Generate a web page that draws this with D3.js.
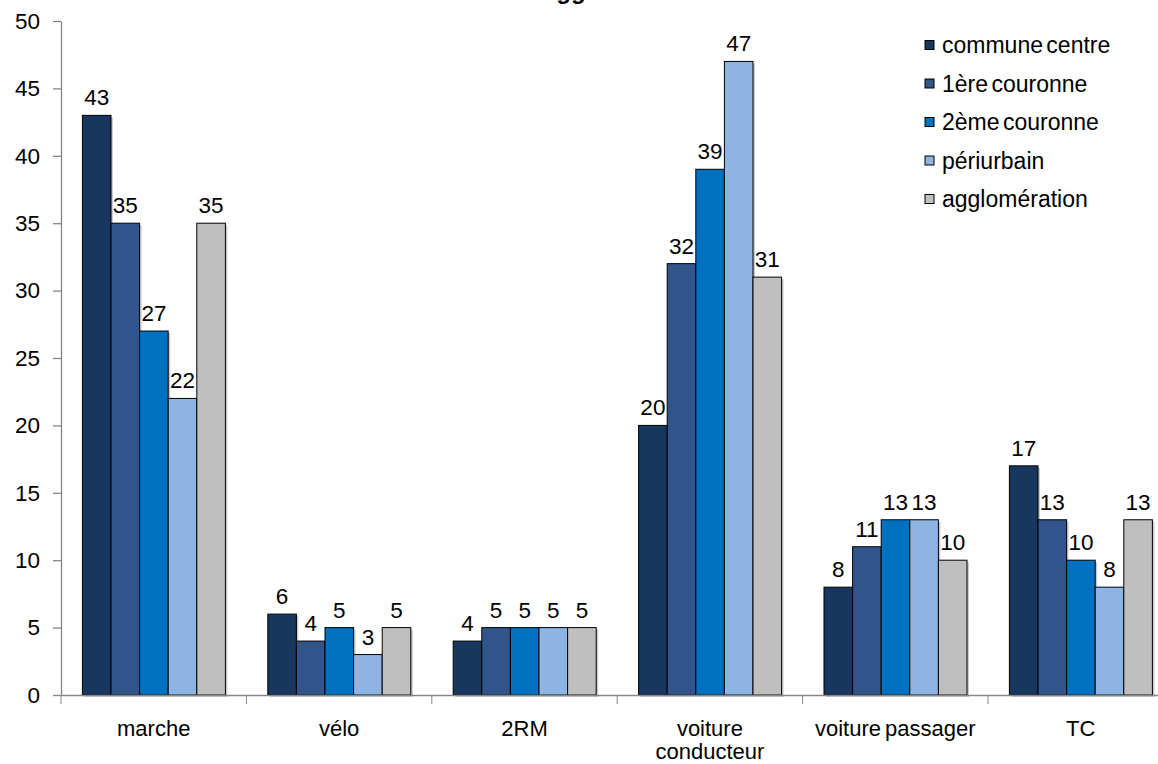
<!DOCTYPE html>
<html>
<head>
<meta charset="utf-8">
<script src="https://cdn.jsdelivr.net/npm/d3@7"></script>
<style>
  body { margin: 0; background: #fff; overflow: hidden; }
  text { font-family: "Liberation Sans", Arial, sans-serif; fill: #000; }
</style>
</head>
<body>
<div id="chart"></div>
<script>
// categories (modes) and series (zones)
var categories = ["marche", "vélo", "2RM", "voiture conducteur", "voiture passager", "TC"];
var series = ["commune centre", "1ère couronne", "2ème couronne", "périurbain", "agglomération"];
var colors = ["#17375e", "#31558a", "#0070c0", "#8eb4e3", "#bfbfbf"];

// values per series, in category order
var communeCentre = [43, 6, 4, 20, 8, 17];
var premiereCouronne = [35, 4, 5, 32, 11, 13];
var deuxiemeCouronne = [27, 5, 5, 39, 13, 10];
var periurbain = [22, 3, 5, 47, 13, 8];
var agglomeration = [35, 5, 5, 31, 10, 13];

var yTicks = [0, 5, 10, 15, 20, 25, 30, 35, 40, 45, 50];

var seriesValues = [communeCentre, premiereCouronne, deuxiemeCouronne, periurbain, agglomeration];

var svgWidth = 1158;
var svgHeight = 764;
var fontSize = "22px";

var svg = d3.select("#chart")
    .append("svg")
    .attr("width", svgWidth)
    .attr("height", svgHeight);

// scales
var bandW = 185.4;
var x0 = d3.scaleBand()
    .domain(categories)
    .range([61, 61 + categories.length * bandW])
    .padding(0);

var x1 = d3.scaleBand()
    .domain(series)
    .range([21.4, 164.4])
    .padding(0);

var y = d3.scaleLinear()
    .domain([0, 50])
    .range([695, 21]);

// title, mostly above the visible area
svg.append("text")
    .attr("x", 543)
    .attr("y", -1)
    .style("font-size", "24px")
    .style("font-weight", "bold")
    .text("agglomération");

// bars
var groups = svg.selectAll(".grp")
    .data(categories)
    .enter()
    .append("g")
    .attr("class", "grp")
    .attr("transform", d => `translate(${x0(d)},0)`);

var barData = function (cat, ci) {
    return series.map(function (s, si) {
        return { s: s, si: si, v: seriesValues[si][ci] };
    });
};

// soft shadow
groups.selectAll(".shadow")
    .data(barData)
    .enter()
    .append("rect")
    .attr("class", "shadow")
    .attr("x", d => x1(d.s) + 2)
    .attr("y", d => y(d.v) + 2)
    .attr("width", x1.bandwidth())
    .attr("height", d => y(0) - y(d.v))
    .attr("fill", "#999")
    .attr("opacity", 0.5);

groups.selectAll(".bar")
    .data(barData)
    .enter()
    .append("rect")
    .attr("class", "bar")
    .attr("x", d => x1(d.s))
    .attr("y", d => y(d.v))
    .attr("width", x1.bandwidth())
    .attr("height", d => y(0) - y(d.v))
    .attr("fill", d => colors[d.si])
    .attr("stroke", "#000")
    .attr("stroke-width", 1);

groups.selectAll(".lbl")
    .data(barData)
    .enter()
    .append("text")
    .attr("class", "lbl")
    .attr("x", d => x1(d.s) + x1.bandwidth() / 2)
    .attr("y", d => y(d.v) - 10)
    .attr("text-anchor", "middle")
    .style("font-size", "22.5px")
    .text(d => d.v);

// y axis
var yAxis = d3.axisLeft(y)
    .tickValues(yTicks)
    .tickSize(8)
    .tickSizeOuter(0)
    .tickPadding(13);

var yG = svg.append("g")
    .attr("transform", "translate(61,0)")
    .call(yAxis);

yG.selectAll("text")
    .style("font-size", "22.5px")
    .style("font-family", "'Liberation Sans', Arial, sans-serif")
    .attr("fill", "#000");

// x axis
var xAxis = d3.axisBottom(x0)
    .tickSize(0)
    .tickSizeOuter(0)
    .tickFormat("");

var xG = svg.append("g")
    .attr("transform", `translate(0,${y(0)})`)
    .call(xAxis);

xG.selectAll(".tick").remove();

// tick marks at category boundaries
xG.selectAll(".bound")
    .data(categories)
    .enter()
    .append("line")
    .attr("class", "bound")
    .attr("x1", d => x0(d))
    .attr("x2", d => x0(d))
    .attr("y1", 0)
    .attr("y2", 9)
    .attr("stroke", "#868686");

svg.selectAll(".domain, .tick line")
    .attr("stroke", "#868686")
    .attr("stroke-width", 1.3);

// category labels, wrapped in two lines where needed
var wrapped = {"voiture conducteur": ["voiture", "conducteur"]};

var catLabels = svg.selectAll(".cat")
    .data(categories)
    .enter()
    .append("text")
    .attr("class", "cat")
    .attr("text-anchor", "middle")
    .style("font-size", fontSize)
    .style("word-spacing", "-2px")
    .attr("y", 736);

catLabels.selectAll("tspan")
    .data(d => (wrapped[d] || [d]).map(t => ({ t: t, c: d })))
    .enter()
    .append("tspan")
    .attr("x", d => x0(d.c) + x0.bandwidth() / 2)
    .attr("dy", (d, i) => i === 0 ? 0 : 23)
    .text(d => d.t);

// legend
var legend = svg.selectAll(".leg")
    .data(series)
    .enter()
    .append("g")
    .attr("class", "leg")
    .attr("transform", (d, i) => `translate(925,${45 + i * 38.5})`);

legend.append("rect")
    .attr("x", 0)
    .attr("y", -4.5)
    .attr("width", 9)
    .attr("height", 9)
    .attr("fill", (d, i) => colors[i])
    .attr("stroke", "#000")
    .attr("stroke-width", 1);

legend.append("text")
    .attr("x", 17)
    .attr("y", 8)
    .style("font-size", "23px")
    .style("word-spacing", "-3px")
    .text(d => d);
</script>
</body>
</html>
